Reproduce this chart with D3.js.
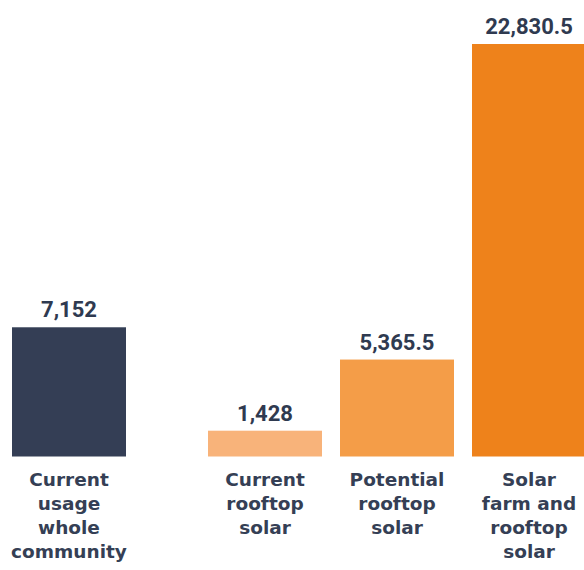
<!DOCTYPE html>
<html>
<head>
<meta charset="utf-8">
<script src="https://cdn.jsdelivr.net/npm/d3@7"></script>
<style>
  body { margin: 0; background: #fff; }
</style>
</head>
<body>
<div id="chart"></div>
<script>
// data
const categories = ["Current usage whole community", "Current rooftop solar", "Potential rooftop solar", "Solar farm and rooftop solar"];
const labelLines = [
  ["Current", "usage", "whole", "community"],
  ["Current", "rooftop", "solar"],
  ["Potential", "rooftop", "solar"],
  ["Solar", "farm and", "rooftop", "solar"]
];
const values = [7152, 1428, 5365.5, 22830.5];
const valueLabels = ["7,152", "1,428", "5,365.5", "22,830.5"];
const barColors = ["#343e55", "#f8b37a", "#f49d48", "#ee821b"];

const width = 584, height = 570;
const baseline = 456.5;
const groupGap = 64; // extra space after first bar

const svg = d3.select("#chart").append("svg")
  .attr("width", width)
  .attr("height", height);

const x = d3.scaleBand()
  .domain(categories)
  .range([76 - 9, 76 - 9 + 132 * 4])
  .paddingInner(18 / 132)
  .paddingOuter(9 / 132);

const xPos = (d, i) => x(d) - (i === 0 ? groupGap : 0);

const y = d3.scaleLinear()
  .domain([0, 22830.5])
  .range([baseline, 44]);

const textColor = "#2f3a50";

// bars
svg.selectAll("rect.bar")
  .data(categories)
  .enter()
  .append("rect")
  .attr("class", "bar")
  .attr("x", (d, i) => xPos(d, i))
  .attr("width", x.bandwidth())
  .attr("y", (d, i) => y(values[i]))
  .attr("height", (d, i) => baseline - y(values[i]))
  .attr("fill", (d, i) => barColors[i]);

// value labels
svg.selectAll("text.value")
  .data(categories)
  .enter()
  .append("text")
  .attr("class", "value")
  .attr("x", (d, i) => xPos(d, i) + x.bandwidth() / 2)
  .attr("y", (d, i) => y(values[i]) - 10)
  .attr("text-anchor", "middle")
  .attr("font-family", "Roboto, sans-serif")
  .attr("font-weight", "700")
  .style("font-size", "22px")
  .attr("fill", textColor)
  .text((d, i) => valueLabels[i]);

// category labels
const cat = svg.selectAll("text.cat")
  .data(categories)
  .enter()
  .append("text")
  .attr("class", "cat")
  .attr("text-anchor", "middle")
  .attr("font-family", "DejaVu Sans, sans-serif")
  .attr("font-weight", "700")
  .style("font-size", "18.5px")
  .attr("fill", "#353f55");

cat.each(function(d, i) {
  const cx = xPos(d, i) + x.bandwidth() / 2;
  d3.select(this).selectAll("tspan")
    .data(labelLines[i])
    .enter()
    .append("tspan")
    .attr("x", cx)
    .attr("y", (t, j) => baseline + 29 + j * 24)
    .text(t => t);
});
</script>
</body>
</html>
